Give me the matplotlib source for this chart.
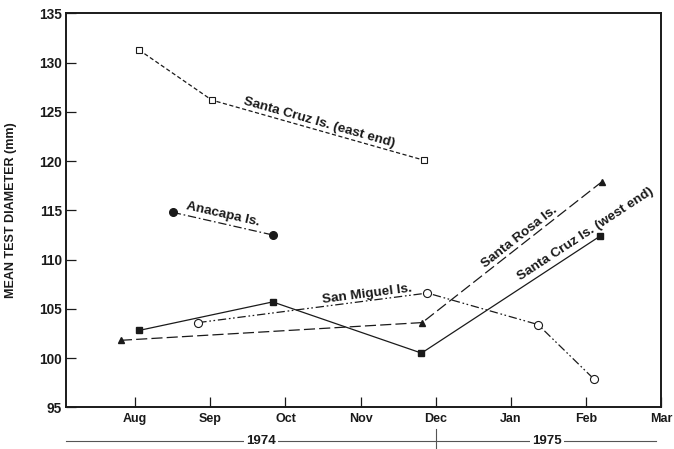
import numpy as np
import matplotlib
matplotlib.use('Agg')
import matplotlib.pyplot as plt
from matplotlib.transforms import blended_transform_factory

plt.rcParams['font.family'] = ['Liberation Sans', 'DejaVu Sans']
plt.rcParams['font.weight'] = 'bold'
plt.rcParams['lines.scale_dashes'] = False

# months since 1 Aug 1974 (Aug = 0)
months = ['Aug', 'Sep', 'Oct', 'Nov', 'Dec', 'Jan', 'Feb', 'Mar']
yticks = [95, 100, 105, 110, 115, 120, 125, 130, 135]

east_x = [0.05, 1.02, 3.84]
east_y = [131.3, 126.2, 120.1]

ana_x = [0.50, 1.83]
ana_y = [114.8, 112.5]

west_x = [0.05, 1.83, 3.81, 6.19]
west_y = [102.8, 105.7, 100.5, 112.4]

rosa_x = [-0.19, 3.82, 6.21]
rosa_y = [101.8, 103.6, 117.9]

miguel_x = [0.84, 3.89, 5.36, 6.10]
miguel_y = [103.6, 106.6, 103.4, 97.9]

years = ['1974', '1975']

ink = '#1a1a1a'

fig = plt.figure(figsize=(6.74, 4.49), dpi=100, facecolor='white')
ax = fig.add_axes([0.098, 0.093, 0.883, 0.877])

ax.set_xlim(-0.92, 7)
ax.set_ylim(95, 135)

# lines
ax.plot(east_x, east_y, color=ink, lw=0.9, ls=(0, (3, 1.8)),
        marker='s', ms=3.8, mfc='white', mec=ink, mew=0.8)
ax.plot(ana_x, ana_y, color=ink, lw=0.9, ls=(0, (6, 2, 1.2, 2)),
        marker='o', ms=5.5, mfc=ink, mec=ink)
ax.plot(miguel_x, miguel_y, color=ink, lw=0.9, ls=(0, (6, 2, 1.2, 1.8, 1.2, 2)),
        marker='o', ms=5.8, mfc='white', mec=ink, mew=0.8)
ax.plot(rosa_x, rosa_y, color=ink, lw=0.9, ls=(0, (8, 3)),
        marker='^', ms=5, mfc=ink, mec=ink)
ax.plot(west_x, west_y, color=ink, lw=0.9, ls='-',
        marker='s', ms=4.2, mfc=ink, mec=ink)


def line_label(x, y, text, x0, y0, x1, y1):
    ang = np.degrees(np.arctan2(y1 - y0, x1 - x0))
    ax.text(x, y, text, rotation=ang, transform_rotates_text=True,
            rotation_mode='anchor', ha='center', va='center',
            fontsize=9.7, fontweight='bold', color=ink)


line_label(2.45, 123.9, 'Santa Cruz Is. (east end)', east_x[1], east_y[1], east_x[2], east_y[2])
line_label(1.17, 114.55, 'Anacapa Is.', ana_x[0], ana_y[0], ana_x[1], ana_y[1])
line_label(3.09, 106.5, 'San Miguel Is.', miguel_x[0], miguel_y[0], miguel_x[1], miguel_y[1])
line_label(5.11, 112.3, 'Santa Rosa Is.', rosa_x[1], rosa_y[1], rosa_x[2], rosa_y[2])
line_label(6.0, 112.6, 'Santa Cruz Is. (west end)', west_x[2], west_y[2], west_x[3], west_y[3])

# axes styling
for s in ax.spines.values():
    s.set_linewidth(1.4)
    s.set_color(ink)

ax.set_xticks(range(len(months)))
ax.set_xticklabels(months)
ax.set_yticks(yticks)
ax.tick_params(direction='in', length=7.5, width=0.9, color=ink,
               pad=3, labelcolor=ink)
ax.tick_params(axis='x', pad=4, labelsize=9)
ax.tick_params(axis='y', labelsize=9.8)
ax.set_ylabel('MEAN TEST DIAMETER (mm)', fontsize=9, fontweight='bold',
              color=ink)
ax.yaxis.set_label_coords(-0.082, 0.5)

# year bar under the axis
tr = blended_transform_factory(ax.transData, fig.transFigure)
ax.plot([-0.92, 6.93], [0.018, 0.018], transform=tr, color='#555555',
        lw=0.8, clip_on=False)
ax.plot([4, 4], [0.0, 0.045], transform=tr, color='#555555',
        lw=0.8, clip_on=False)
for xv, yr in zip([1.68, 5.48], years):
    ax.text(xv, 0.018, yr, transform=tr, ha='center', va='center',
            fontsize=9.5, fontweight='bold', color=ink,
            bbox=dict(facecolor='white', edgecolor='none', pad=1.5))

fig.savefig('out.png', dpi=100, facecolor='white')
